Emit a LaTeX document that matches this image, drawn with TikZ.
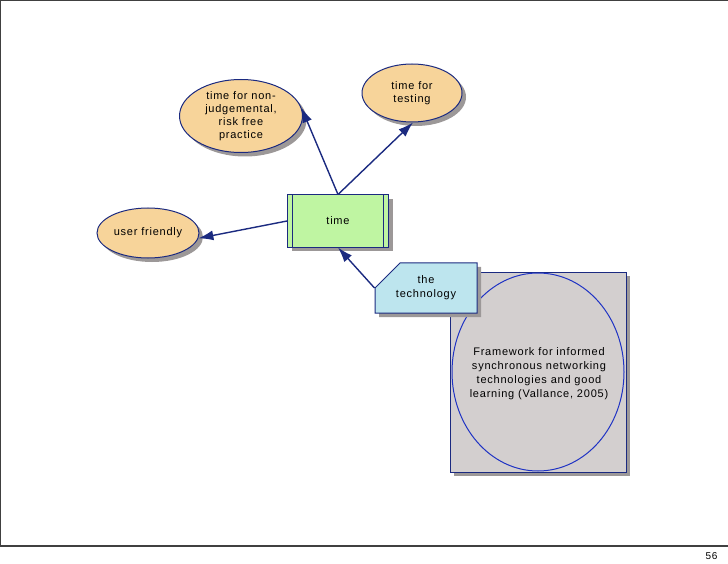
\documentclass[tikz,border=0pt]{standalone}
\usepackage{fontspec}
\setmainfont{Liberation Sans}[LetterSpace=7]
\usetikzlibrary{shapes.geometric,shapes.misc,arrows.meta,shadows}
\definecolor{navy}{HTML}{1B2A80}
\definecolor{ellfill}{HTML}{F7D49A}
\definecolor{greenfill}{HTML}{BFF5A2}
\definecolor{bluefill}{HTML}{BDE5EE}
\definecolor{grayfill}{HTML}{D3CFCF}
\definecolor{shadowc}{HTML}{9C9898}
\definecolor{ringc}{HTML}{1F33C4}
\tikzset{
  shd/.style={drop shadow={shadow xshift=4pt,shadow yshift=-4pt,opacity=1,fill=shadowc}},
  idea/.style={ellipse,draw=navy,line width=1pt,fill=ellfill,shd,inner sep=0pt,align=center,font=\fontsize{11}{13}\selectfont},
  conn/.style={navy,line width=1.4pt,-{Latex[length=15pt,width=10pt]}},
  lbl/.style={align=center,font=\fontsize{11}{14}\selectfont}
}
\begin{document}
\begin{tikzpicture}[x=1pt,y=-1pt]
\useasboundingbox (0,0) rectangle (728,564);
% slide frame
\draw[line width=1pt,black!75] (0.5,546) -- (0.5,0.5) -- (727.5,0.5);
\draw[line width=1.2pt,black!75] (0,546) -- (728,546);
\node[font=\fontsize{10}{11}\selectfont,anchor=east] (pg) at (721,556) {56};

% ellipses
\node[idea,minimum width=123pt,minimum height=73pt] (nonj) at (241,116) {time for non-\\judgemental,\\risk free\\practice};
\node[idea,minimum width=100pt,minimum height=58pt] (test) at (412,93) {time for\\testing};
\node[idea,minimum width=102pt,minimum height=50pt] (uf) at (148,233) {user friendly};

% time box
\node[draw=navy,line width=1pt,fill=greenfill,shd,minimum width=101pt,minimum height=52pt,font=\fontsize{11}{12}\selectfont] (time) at (338,221) {time};
\draw[navy,line width=0.8pt] ([xshift=5.5pt]time.north west) -- ([xshift=5.5pt]time.south west);
\draw[navy,line width=0.8pt] ([xshift=-5.5pt]time.north east) -- ([xshift=-5.5pt]time.south east);

% framework box
\node[draw=navy,line width=1pt,fill=grayfill,shd,minimum width=176pt,minimum height=200pt] (fw) at (538,372) {};
\node[ellipse,draw=ringc,line width=1pt,minimum width=172pt,minimum height=198pt,inner sep=0pt] (ring) at (538,372) {};
\node[lbl] (fwt) at (539,374) {Framework for informed\\synchronous networking\\technologies and good\\learning (Vallance, 2005)};

% technology box with cut corner
\node[chamfered rectangle,chamfered rectangle corners=north west,chamfered rectangle xsep=14pt,chamfered rectangle ysep=13pt,draw=navy,line width=1pt,fill=bluefill,shd,minimum width=102pt,minimum height=49pt,inner sep=0pt,lbl] (tech) at (426,288) {the\\technology};

% connectors
\draw[conn] (time.north) -- (nonj.8);
\draw[conn] (time.north) -- (test.-88);
\draw[conn] (time.west) -- (uf.-6);
\draw[conn] (tech.west) -- (time.south);
\end{tikzpicture}
\end{document}
